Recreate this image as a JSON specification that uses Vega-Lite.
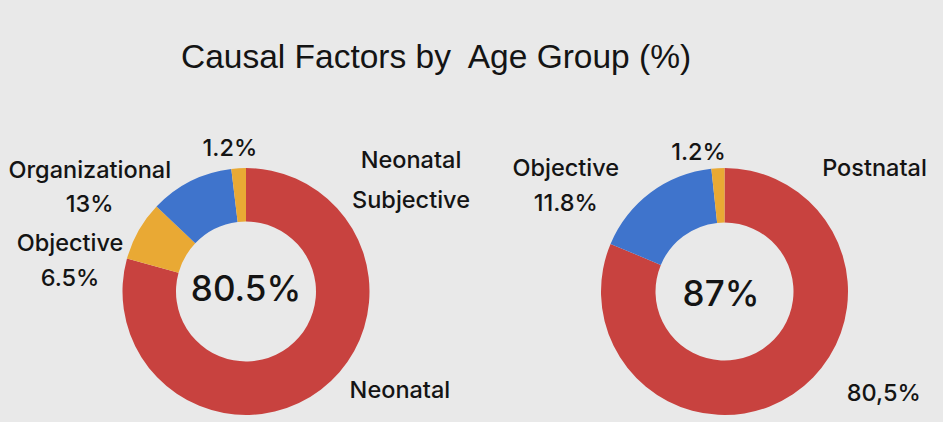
{
  "$schema": "https://vega.github.io/schema/vega-lite/v6.json",
  "background": "#e9e9e9",
  "padding": {"left": 5, "top": 40, "right": 8, "bottom": 1},
  "title": {
    "text": "Causal Factors by\u00a0 Age Group (%)",
    "anchor": "start",
    "frame": "group",
    "dx": 176,
    "offset": -30,
    "baseline": "alphabetic",
    "font": "Liberation Sans",
    "fontSize": 33.5,
    "fontWeight": "normal",
    "color": "#141414"
  },
  "datasets": {
    "neonatal": [
      {"cat": "Subjective", "share": 79.3, "ord": 1, "pct": "80.5%", "label": "80.5%", "note_top": "Neonatal\nSubjective", "note_bottom": "Neonatal"},
      {"cat": "Objective", "share": 7.8, "ord": 2, "pct": "6.5%", "label": "Objective\n6.5%", "note_top": "", "note_bottom": ""},
      {"cat": "Organizational", "share": 11.0, "ord": 3, "pct": "13%", "label": "Organizational\n13%", "note_top": "", "note_bottom": ""},
      {"cat": "Other", "share": 1.9, "ord": 4, "pct": "1.2%", "label": "1.2%", "note_top": "", "note_bottom": ""}
    ],
    "postnatal": [
      {"cat": "Subjective", "share": 81.3, "ord": 1, "pct": "87%", "label": "87%", "note_top": "Postnatal", "note_bottom": "80,5%"},
      {"cat": "Objective", "share": 17.0, "ord": 2, "pct": "11.8%", "label": "Objective\n11.8%", "note_top": "", "note_bottom": ""},
      {"cat": "Other", "share": 1.7, "ord": 3, "pct": "1.2%", "label": "1.2%", "note_top": "", "note_bottom": ""}
    ]
  },
  "spacing": 25,
  "hconcat": [
    {
      "width": 482,
      "height": 261,
      "data": {"name": "neonatal"},
      "encoding": {
        "theta": {"field": "share", "type": "quantitative", "stack": true},
        "order": {"field": "ord", "type": "quantitative"}
      },
      "layer": [
        {
          "mark": {"type": "arc", "innerRadius": 70, "outerRadius": 123.5},
          "encoding": {
            "color": {"field": "cat", "type": "nominal", "legend": null,
              "scale": {"domain": ["Subjective", "Objective", "Organizational", "Other"], "range": ["#c8423f", "#e9a934", "#3f74cc", "#e9a934"]}}
          }
        },
        {
          "mark": {"type": "text", "font": "Inter", "fontSize": 35, "fontWeight": 500, "baseline": "alphabetic", "dy": 9.5, "color": "#141414"},
          "encoding": {"detail": {"field": "cat"}, "text": {"condition": {"test": "datum.cat === 'Subjective'", "field": "pct", "type": "nominal"}, "value": ""}}
        },
        {
          "mark": {"type": "text", "font": "Inter", "fontSize": 23.5, "fontWeight": 500, "baseline": "alphabetic", "radius": 136, "dx": -8, "dy": 0, "color": "#141414"},
          "encoding": {"detail": {"field": "cat"}, "text": {"condition": {"test": "datum.cat === 'Other'", "field": "label", "type": "nominal"}, "value": ""}}
        },
        {
          "mark": {"type": "text", "font": "Inter", "fontSize": 23.5, "fontWeight": 500, "baseline": "alphabetic", "lineBreak": "\n", "lineHeight": 34, "radius": 170, "dx": -80, "dy": 38.5, "color": "#141414"},
          "encoding": {"detail": {"field": "cat"}, "text": {"condition": {"test": "datum.cat === 'Organizational'", "field": "label", "type": "nominal"}, "value": ""}}
        },
        {
          "mark": {"type": "text", "font": "Inter", "fontSize": 23.5, "fontWeight": 500, "baseline": "alphabetic", "lineBreak": "\n", "lineHeight": 35, "radius": 170, "dx": -28, "dy": 43, "color": "#141414"},
          "encoding": {"detail": {"field": "cat"}, "text": {"condition": {"test": "datum.cat === 'Objective'", "field": "label", "type": "nominal"}, "value": ""}}
        },
        {
          "mark": {"type": "text", "font": "Inter", "fontSize": 23.5, "fontWeight": 500, "baseline": "alphabetic", "lineBreak": "\n", "lineHeight": 40, "dx": 165, "dy": -123.5, "color": "#141414"},
          "encoding": {"detail": {"field": "cat"}, "text": {"condition": {"test": "datum.cat === 'Subjective'", "field": "note_top", "type": "nominal"}, "value": ""}}
        },
        {
          "mark": {"type": "text", "font": "Inter", "fontSize": 23.5, "fontWeight": 500, "baseline": "alphabetic", "radius": 170, "dx": 51, "dy": -29, "color": "#141414"},
          "encoding": {"detail": {"field": "cat"}, "text": {"condition": {"test": "datum.cat === 'Subjective'", "field": "note_bottom", "type": "nominal"}, "value": ""}}
        }
      ]
    },
    {
      "width": 423,
      "height": 261,
      "data": {"name": "postnatal"},
      "encoding": {
        "theta": {"field": "share", "type": "quantitative", "stack": true},
        "order": {"field": "ord", "type": "quantitative"}
      },
      "layer": [
        {
          "mark": {"type": "arc", "innerRadius": 69, "outerRadius": 123.5},
          "encoding": {
            "color": {"field": "cat", "type": "nominal", "legend": null,
              "scale": {"domain": ["Subjective", "Objective", "Other"], "range": ["#c8423f", "#3f74cc", "#e9a934"]}}
          }
        },
        {
          "mark": {"type": "text", "font": "Inter", "fontSize": 35, "fontWeight": 500, "baseline": "alphabetic", "dx": -3.5, "dy": 14.5, "color": "#141414"},
          "encoding": {"detail": {"field": "cat"}, "text": {"condition": {"test": "datum.cat === 'Subjective'", "field": "pct", "type": "nominal"}, "value": ""}}
        },
        {
          "mark": {"type": "text", "font": "Inter", "fontSize": 23.5, "fontWeight": 500, "baseline": "alphabetic", "radius": 131, "dx": -19, "dy": -0.7, "color": "#141414"},
          "encoding": {"detail": {"field": "cat"}, "text": {"condition": {"test": "datum.cat === 'Other'", "field": "label", "type": "nominal"}, "value": ""}}
        },
        {
          "mark": {"type": "text", "font": "Inter", "fontSize": 23.5, "fontWeight": 500, "baseline": "alphabetic", "lineBreak": "\n", "lineHeight": 35, "radius": 170, "dx": -57, "dy": 21, "color": "#141414"},
          "encoding": {"detail": {"field": "cat"}, "text": {"condition": {"test": "datum.cat === 'Objective'", "field": "label", "type": "nominal"}, "value": ""}}
        },
        {
          "mark": {"type": "text", "font": "Inter", "fontSize": 23.5, "fontWeight": 500, "baseline": "alphabetic", "dx": 150, "dy": -115.5, "color": "#141414"},
          "encoding": {"detail": {"field": "cat"}, "text": {"condition": {"test": "datum.cat === 'Subjective'", "field": "note_top", "type": "nominal"}, "value": ""}}
        },
        {
          "mark": {"type": "text", "font": "Inter", "fontSize": 23.5, "fontWeight": 500, "baseline": "alphabetic", "radius": 170, "dx": 65, "dy": -31.5, "color": "#141414"},
          "encoding": {"detail": {"field": "cat"}, "text": {"condition": {"test": "datum.cat === 'Subjective'", "field": "note_bottom", "type": "nominal"}, "value": ""}}
        }
      ]
    }
  ],
  "resolve": {"scale": {"color": "independent", "theta": "independent"}},
  "config": {"view": {"stroke": null}}
}
